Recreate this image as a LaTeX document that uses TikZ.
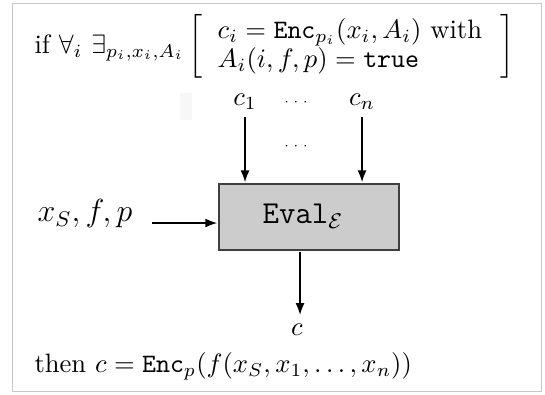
\documentclass[tikz,border=0pt]{standalone}
\usetikzlibrary{arrows.meta}
\begin{document}
\begin{tikzpicture}[scale=2.66, transform shape, x=0.37594pt, y=-0.37594pt,
  big/.style={inner sep=0pt},
  larger/.style={inner sep=0pt, font=\large},
  dotsn/.style={font=\tiny, inner sep=0pt},
  conn/.style={line width=1.6pt, -{Latex[length=12pt,width=9pt]}},
  evalbox/.style={draw=black!75, line width=1.3pt, fill=black!20, minimum width=67.7pt, minimum height=24.8pt, inner sep=0pt}]
\useasboundingbox (0,0) rectangle (545,394);
\draw[black!22, line width=1pt] (12,3) rectangle (541,391);
\fill[black!3] (180,93) rectangle (192,120);
\node[big, anchor=west] (cond) at (34,48) {if $\forall_i\ \exists_{p_i,x_i,A_i} \left[\;\; \begin{array}{@{}l@{}} c_i = \mathtt{Enc}_{p_i}(x_i,A_i)\ \mbox{with}\\[-0.8pt] A_i(i,f,p)=\mathtt{true}\end{array}\hspace{7pt}\rule[-10.5pt]{0pt}{21pt}\right]$};
\node[big] (c1) at (245,102) {$c_1$};
\node[big] (cn) at (362,102) {$c_n$};
\node[dotsn] (d1) at (296,102) {$\cdots$};
\node[dotsn] (d2) at (296,146) {$\cdots$};
\node[evalbox] (eval) at (309,217) {};
\node[big, font=\large] (evaltext) at (303,216) {$\mathtt{Eval}_{\mathcal{E}}$};
\node[larger] (in) at (85,214) {$x_S,f,p$};
\coordinate (instart) at (152,223);
\coordinate (outend) at (300,315);
\node[big] (c) at (297,330) {$c$};
\node[big, anchor=west] (concl) at (34,366) {then $c=\mathtt{Enc}_p(f(x_S,x_1,\ldots,x_n))$};
\draw[conn] (c1.south |- 0,117) -- (c1.south |- eval.north);
\draw[conn] (cn.south |- 0,117) -- (cn.south |- eval.north);
\draw[conn] (instart) -- (eval.west |- instart);
\draw[conn] (eval.south -| outend) -- (outend);
\end{tikzpicture}
\end{document}
